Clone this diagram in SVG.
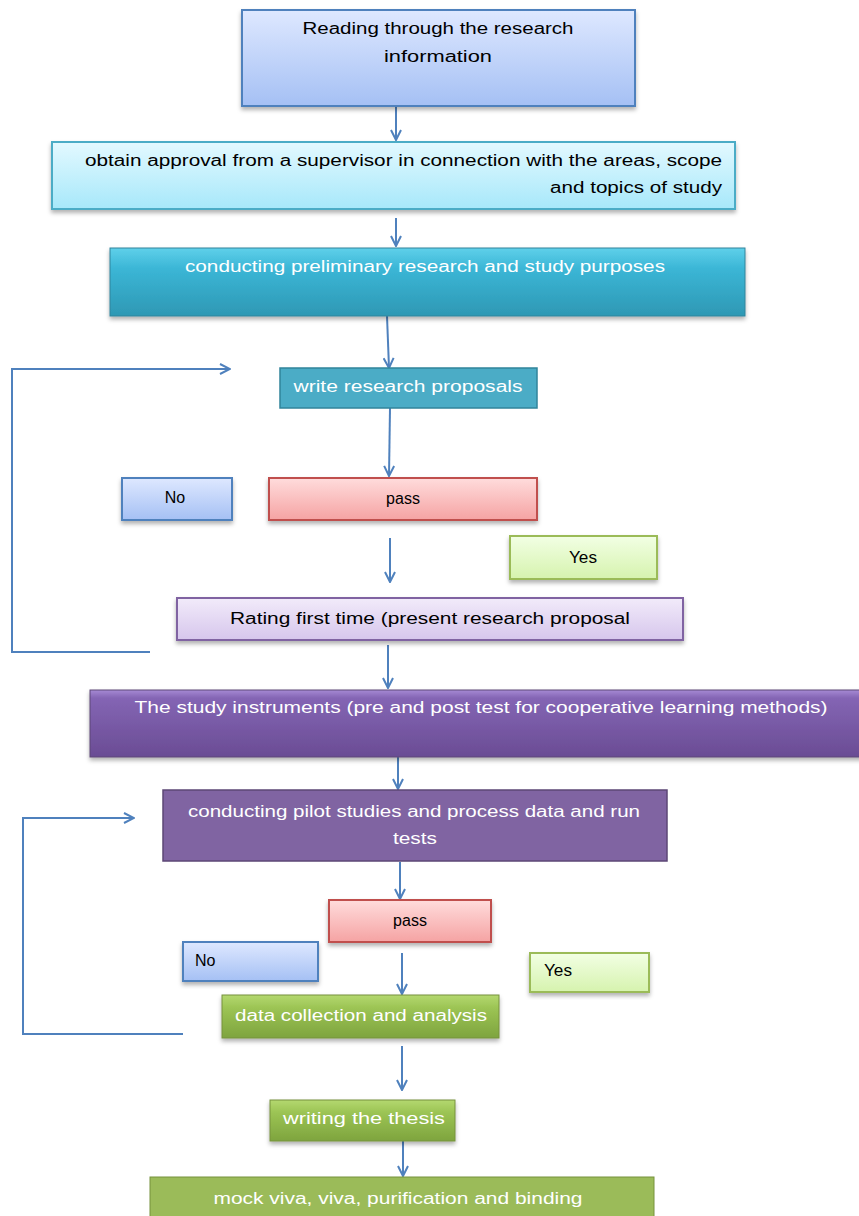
<svg xmlns="http://www.w3.org/2000/svg" width="859" height="1216" viewBox="0 0 859 1216">
<style>
.t{font-family:"Liberation Sans",Arial,sans-serif;font-size:16px;fill:#000}
.w{font-family:"Liberation Sans",Arial,sans-serif;font-size:16px;fill:#fff}
.c{fill:none;stroke:#4f81bd;stroke-width:2}
</style>
<defs>
<filter id="sh" x="-5%" y="-10%" width="110%" height="130%"><feDropShadow dx="0" dy="3" stdDeviation="2" flood-color="#000" flood-opacity="0.3"/></filter>
<marker id="ar" viewBox="0 0 12 12" refX="11" refY="6" markerWidth="12" markerHeight="12" markerUnits="userSpaceOnUse" orient="auto"><path d="M1,1 L11,6 L1,11" fill="none" stroke="#4f81bd" stroke-width="2"/></marker>
<linearGradient id="gBlue" x1="0" y1="0" x2="0" y2="1"><stop offset="0" stop-color="#dee8ff"/><stop offset="1" stop-color="#a5c0f4"/></linearGradient>
<linearGradient id="gCyan" x1="0" y1="0" x2="0" y2="1"><stop offset="0" stop-color="#e3f9ff"/><stop offset="1" stop-color="#a7e8fa"/></linearGradient>
<linearGradient id="gTeal" x1="0" y1="0" x2="0" y2="1"><stop offset="0" stop-color="#5fd0ea"/><stop offset="0.3" stop-color="#3bb6d6"/><stop offset="1" stop-color="#2e98b4"/></linearGradient>
<linearGradient id="gRed" x1="0" y1="0" x2="0" y2="1"><stop offset="0" stop-color="#ffdcdc"/><stop offset="1" stop-color="#f5a3a3"/></linearGradient>
<linearGradient id="gGreen" x1="0" y1="0" x2="0" y2="1"><stop offset="0" stop-color="#f2ffe4"/><stop offset="1" stop-color="#d6f3ae"/></linearGradient>
<linearGradient id="gLav" x1="0" y1="0" x2="0" y2="1"><stop offset="0" stop-color="#f2ebfa"/><stop offset="1" stop-color="#d6c6ec"/></linearGradient>
<linearGradient id="gPur" x1="0" y1="0" x2="0" y2="1"><stop offset="0" stop-color="#a68ad4"/><stop offset="0.12" stop-color="#8465b4"/><stop offset="1" stop-color="#6a4c94"/></linearGradient>
<linearGradient id="gOlive" x1="0" y1="0" x2="0" y2="1"><stop offset="0" stop-color="#b4d870"/><stop offset="0.3" stop-color="#9cc454"/><stop offset="1" stop-color="#7ea43e"/></linearGradient>
</defs>
<rect width="859" height="1216" fill="#fff"/>

<g id="connectors">
<line class="c" x1="396" y1="106" x2="396" y2="140" marker-end="url(#ar)"/>
<line class="c" x1="396" y1="218" x2="396" y2="246" marker-end="url(#ar)"/>
<line class="c" x1="387" y1="316" x2="389" y2="368" marker-end="url(#ar)"/>
<line class="c" x1="390" y1="408" x2="389" y2="476" marker-end="url(#ar)"/>
<line class="c" x1="390" y1="538" x2="390" y2="582" marker-end="url(#ar)"/>
<line class="c" x1="388" y1="645" x2="388" y2="688" marker-end="url(#ar)"/>
<line class="c" x1="398" y1="757" x2="398" y2="789" marker-end="url(#ar)"/>
<line class="c" x1="400" y1="862" x2="400" y2="899" marker-end="url(#ar)"/>
<line class="c" x1="402" y1="953" x2="402" y2="994" marker-end="url(#ar)"/>
<line class="c" x1="402" y1="1046" x2="402" y2="1090" marker-end="url(#ar)"/>
<line class="c" x1="403" y1="1141" x2="403" y2="1176" marker-end="url(#ar)"/>
<polyline class="c" points="150,652 12,652 12,369 230,369" marker-end="url(#ar)"/>
<polyline class="c" points="183,1034 23,1034 23,818 134,818" marker-end="url(#ar)"/>
</g>

<g id="n1"><rect x="242" y="10" width="393" height="96" fill="url(#gBlue)" stroke="#4f81bd" stroke-width="2" filter="url(#sh)"/>
<text class="t" x="438" y="34" text-anchor="middle" textLength="271" lengthAdjust="spacingAndGlyphs">Reading through the research</text>
<text class="t" x="438" y="62" text-anchor="middle" textLength="108" lengthAdjust="spacingAndGlyphs">information</text></g>

<g id="n2"><rect x="52" y="142" width="683" height="67" fill="url(#gCyan)" stroke="#4bacc6" stroke-width="2" filter="url(#sh)"/>
<text class="t" x="722" y="166" text-anchor="end" textLength="637" lengthAdjust="spacingAndGlyphs">obtain approval from a supervisor in connection with the areas, scope</text>
<text class="t" x="722" y="193" text-anchor="end" textLength="172" lengthAdjust="spacingAndGlyphs">and topics of study</text></g>

<g id="n3"><rect x="110" y="248" width="635" height="68" fill="url(#gTeal)" stroke="#31849b" stroke-width="1" filter="url(#sh)"/>
<text class="w" x="425" y="272" text-anchor="middle" textLength="480" lengthAdjust="spacingAndGlyphs">conducting  preliminary research and study purposes</text></g>

<g id="n4"><rect x="280" y="368" width="257" height="40" fill="#4bacc6" stroke="#31849b" stroke-width="1.5"/>
<text class="w" x="408" y="392" text-anchor="middle" textLength="229" lengthAdjust="spacingAndGlyphs">write research proposals</text></g>

<g id="n5"><rect x="122" y="478" width="110" height="42" fill="url(#gBlue)" stroke="#4f81bd" stroke-width="2" filter="url(#sh)"/>
<text class="t" x="175" y="503" text-anchor="middle">No</text></g>

<g id="n6"><rect x="269" y="478" width="268" height="42" fill="url(#gRed)" stroke="#c0504d" stroke-width="2" filter="url(#sh)"/>
<text class="t" x="403" y="504" text-anchor="middle">pass</text></g>

<g id="n7"><rect x="510" y="536" width="147" height="43" fill="url(#gGreen)" stroke="#9bbb59" stroke-width="2" filter="url(#sh)"/>
<text class="t" x="583" y="563" text-anchor="middle" textLength="28" lengthAdjust="spacingAndGlyphs">Yes</text></g>

<g id="n8"><rect x="177" y="598" width="506" height="42" fill="url(#gLav)" stroke="#8064a2" stroke-width="2" filter="url(#sh)"/>
<text class="t" x="430" y="624" text-anchor="middle" textLength="400" lengthAdjust="spacingAndGlyphs">Rating first time (present research proposal</text></g>

<g id="n9"><rect x="90" y="690" width="780" height="67" fill="url(#gPur)" stroke="#5c4776" stroke-width="1" filter="url(#sh)"/>
<text class="w" x="481" y="713" text-anchor="middle" textLength="693" lengthAdjust="spacingAndGlyphs">The study instruments (pre and post test for cooperative learning methods)</text></g>

<g id="n10"><rect x="163" y="790" width="504" height="71" fill="#8064a2" stroke="#5c4776" stroke-width="1.5"/>
<text class="w" x="414" y="817" text-anchor="middle" textLength="452" lengthAdjust="spacingAndGlyphs">conducting  pilot studies and process data and run</text>
<text class="w" x="415" y="844" text-anchor="middle" textLength="44" lengthAdjust="spacingAndGlyphs">tests</text></g>

<g id="n11"><rect x="329" y="900" width="162" height="42" fill="url(#gRed)" stroke="#c0504d" stroke-width="2" filter="url(#sh)"/>
<text class="t" x="410" y="926" text-anchor="middle">pass</text></g>

<g id="n12"><rect x="183" y="942" width="135" height="39" fill="url(#gBlue)" stroke="#4f81bd" stroke-width="2" filter="url(#sh)"/>
<text class="t" x="195" y="966">No</text></g>

<g id="n13"><rect x="530" y="953" width="119" height="39" fill="url(#gGreen)" stroke="#9bbb59" stroke-width="2" filter="url(#sh)"/>
<text class="t" x="544" y="976" textLength="28" lengthAdjust="spacingAndGlyphs">Yes</text></g>

<g id="n14"><rect x="222" y="995" width="277" height="43" fill="url(#gOlive)" stroke="#76923c" stroke-width="1" filter="url(#sh)"/>
<text class="w" x="361" y="1021" text-anchor="middle" textLength="252" lengthAdjust="spacingAndGlyphs">data collection and analysis</text></g>

<g id="n15"><rect x="270" y="1100" width="185" height="41" fill="url(#gOlive)" stroke="#76923c" stroke-width="1" filter="url(#sh)"/>
<text class="w" x="364" y="1124" text-anchor="middle" textLength="162" lengthAdjust="spacingAndGlyphs">writing the thesis</text></g>

<g id="n16"><rect x="150" y="1177" width="504" height="45" fill="#9bbb59" stroke="#76923c" stroke-width="1"/>
<text class="w" x="398" y="1204" text-anchor="middle" textLength="369" lengthAdjust="spacingAndGlyphs">mock  viva, viva, purification and binding</text></g>
</svg>
